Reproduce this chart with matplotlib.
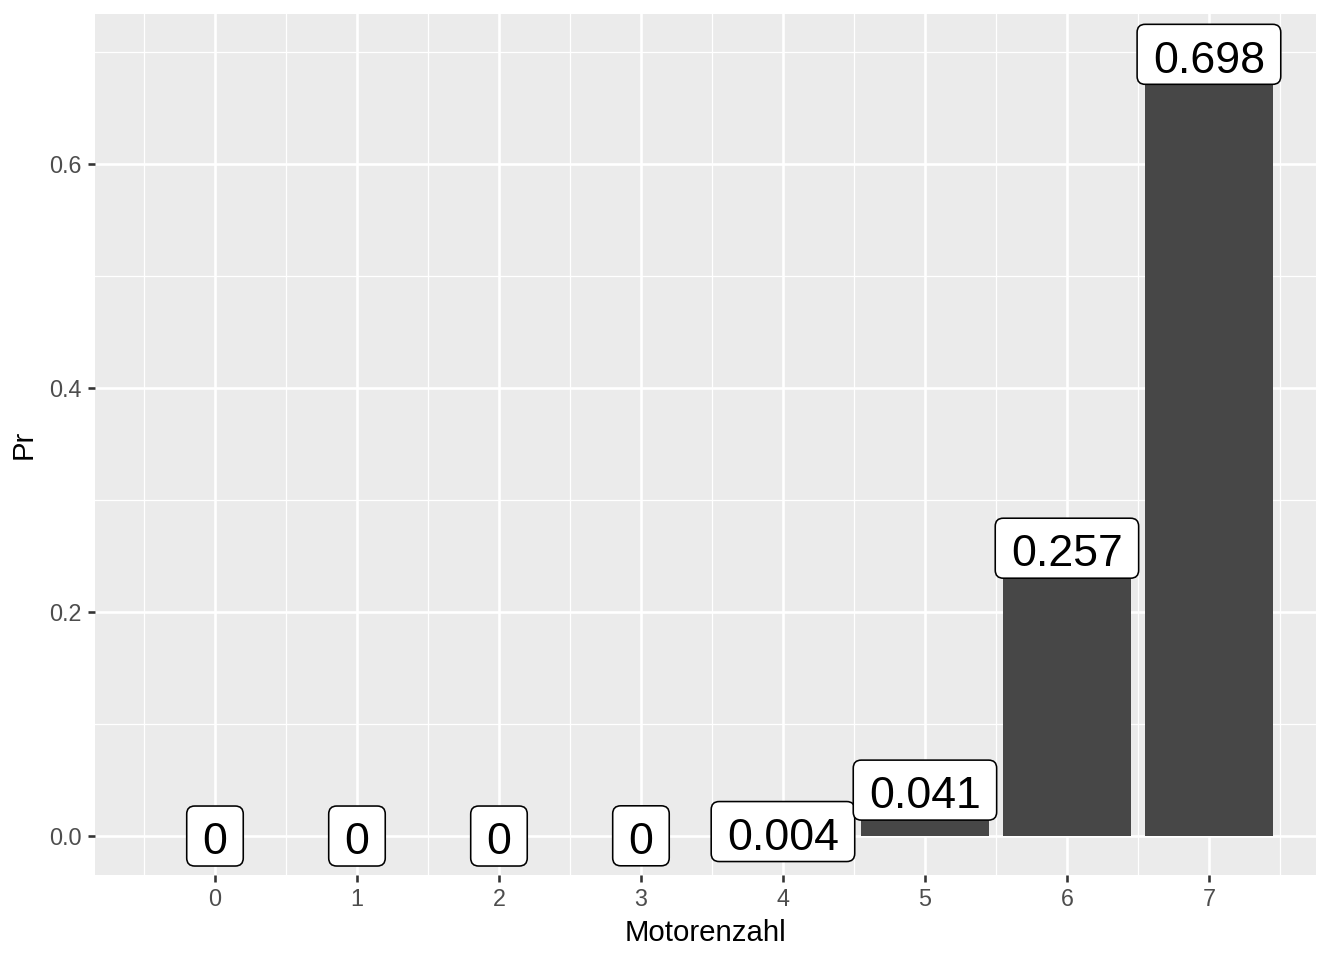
import matplotlib
matplotlib.use("Agg")
import matplotlib.pyplot as plt
from matplotlib.ticker import MultipleLocator
from matplotlib.patches import BoxStyle
from matplotlib.transforms import offset_copy

motoren = [0, 1, 2, 3, 4, 5, 6, 7]
pr = [0.0, 0.0, 0.0, 0.0002, 0.004, 0.041, 0.257, 0.698]
labels = ["0", "0", "0", "0", "0.004", "0.041", "0.257", "0.698"]
yticks = [0.0, 0.2, 0.4, 0.6]
ytick_labels = ["0.0", "0.2", "0.4", "0.6"]

plt.rcParams['font.family'] = ['Liberation Sans', 'DejaVu Sans']

W, H = 1344, 960
dpi = 144
fig = plt.figure(figsize=(W / dpi, H / dpi), dpi=dpi)
L, R, T, B = 95, 1316, 14, 875
ax = fig.add_axes([L / W, 1 - B / H, (R - L) / W, (B - T) / H])

ax.set_facecolor("#EBEBEB")
for s in ax.spines.values():
    s.set_visible(False)

ax.set_xlim(-0.845, 7.754)
ax.set_ylim(-0.0348, 0.734)

ax.set_xticks(motoren)
ax.set_xticklabels([str(m) for m in motoren])
ax.xaxis.set_minor_locator(MultipleLocator(0.5))
ax.set_yticks(yticks)
ax.set_yticklabels(ytick_labels)
ax.yaxis.set_minor_locator(MultipleLocator(0.1))

ax.grid(which="major", color="white", linewidth=1.3)
ax.grid(which="minor", color="white", linewidth=0.65)
ax.set_axisbelow(True)

ax.tick_params(which="major", length=3.6, width=1.3, color="#333333",
               labelcolor="#4D4D4D", labelsize=11.7, pad=3)
ax.tick_params(which="minor", length=0)

ax.bar(motoren, pr, width=0.9, color="#474747", zorder=2)

LABEL_SIZE = 22.3
SHIFT = 0.15      # text shifted down (em)
PADX = 0.355      # horizontal padding (em)
BOXH = 1.345      # box height (em)


def label_box(x0, y0, width, height, mutation_size):
    m = mutation_size
    left = x0 - PADX * m
    w = width + 2 * PADX * m
    cy = y0 + height / 2 + SHIFT * m
    h = BOXH * m
    return BoxStyle.Round(pad=0, rounding_size=0.18)(left, cy - h / 2, w, h, m)


text_trans = offset_copy(ax.transData, fig=fig, y=-SHIFT * LABEL_SIZE,
                         units='points')
for x, y, lab in zip(motoren, pr, labels):
    ax.text(x, y, lab, ha="center", va="center", fontsize=LABEL_SIZE,
            color="black", zorder=3, transform=text_trans,
            bbox=dict(boxstyle=label_box, facecolor="white",
                      edgecolor="black", linewidth=0.8))

ax.set_xlabel("Motorenzahl", fontsize=14.7, color="black", labelpad=4)
ax.set_ylabel("Pr", fontsize=14.7, color="black", labelpad=6)

fig.savefig("out.png", dpi=dpi, facecolor="white")
